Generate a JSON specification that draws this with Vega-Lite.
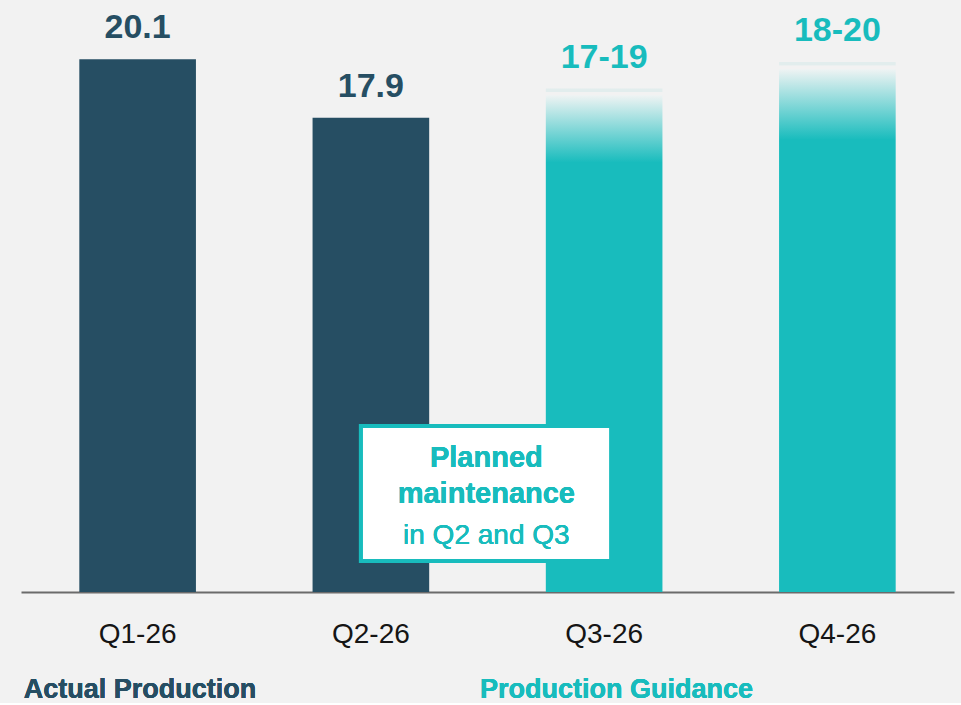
{
  "$schema": "https://vega.github.io/schema/vega-lite/v6.json",
  "width": 933,
  "height": 592,
  "padding": {"left": 21, "top": 0, "right": 7, "bottom": 0},
  "background": "#f2f2f2",
  "config": {"view": {"stroke": null}, "font": "Liberation Sans"},
  "data": {"values": [
    {"quarter": "Q1-26", "type": "Actual", "value": 20.1, "label": "20.1"},
    {"quarter": "Q2-26", "type": "Actual", "value": 17.9, "label": "17.9"},
    {"quarter": "Q3-26", "type": "Guidance", "low": 17, "value": 19, "label": "17-19"},
    {"quarter": "Q4-26", "type": "Guidance", "low": 18, "value": 20, "label": "18-20"}
  ]},
  "encoding": {
    "x": {
      "field": "quarter", "type": "nominal", "sort": null,
      "scale": {"paddingInner": 0.5, "paddingOuter": 0.25},
      "axis": {
        "title": null, "labelAngle": 0, "labelFontSize": 28, "labelColor": "#151515",
        "labelFont": "Liberation Sans", "labelBaseline": "alphabetic", "labelPadding": 50,
        "ticks": false, "tickSize": 0, "domainColor": "#6b6b6b", "domainWidth": 2, "grid": false
      }
    },
    "y": {"field": "value", "type": "quantitative", "scale": {"domain": [0, 22.34], "nice": false, "zero": true}, "axis": null}
  },
  "layer": [
    {
      "transform": [{"filter": "datum.type === 'Actual'"}],
      "mark": {"type": "bar", "fill": "#264e63"}
    },
    {
      "transform": [{"filter": "datum.type === 'Guidance'"}],
      "mark": {"type": "bar", "fill": {
        "gradient": "linear", "x1": 0, "y1": 0, "x2": 0, "y2": 1,
        "stops": [
          {"offset": 0, "color": "#e2eded"},
          {"offset": 0.006, "color": "#e2eded"},
          {"offset": 0.007, "color": "#f2f2f2"},
          {"offset": 0.013, "color": "#f2f2f2"},
          {"offset": 0.014, "color": "#eef3f3"},
          {"offset": 0.147, "color": "#18bcbd"},
          {"offset": 1, "color": "#18bcbd"}
        ]
      }}
    },
    {
      "mark": {"type": "text", "fontSize": 34, "fontWeight": "bold", "baseline": "alphabetic", "dy": -21},
      "encoding": {
        "text": {"field": "label"},
        "color": {"field": "type", "type": "nominal", "scale": {"domain": ["Actual", "Guidance"], "range": ["#264e63", "#18bcbd"]}, "legend": null}
      }
    },
    {
      "mark": {"type": "rect", "fill": "#ffffff", "stroke": "#18bcbd", "strokeWidth": 4},
      "encoding": {
        "x": {"datum": "Q2-26", "bandPosition": 0.415},
        "x2": {"datum": "Q3-26", "bandPosition": 0.56},
        "y": {"datum": 6.26},
        "y2": {"datum": 1.17}
      }
    },
    {
      "mark": {"type": "text", "text": ["Planned", "maintenance"], "fontSize": 29, "fontWeight": "bold", "color": "#18bcbd", "baseline": "alphabetic", "align": "center", "lineHeight": 36},
      "encoding": {
        "x": {"datum": "Q2-26", "bandPosition": 1.49},
        "y": {"datum": 4.72}
      }
    },
    {
      "mark": {"type": "text", "text": "in Q2 and Q3", "fontSize": 28, "color": "#18bcbd", "baseline": "alphabetic", "align": "center"},
      "encoding": {
        "x": {"datum": "Q2-26", "bandPosition": 1.49},
        "y": {"datum": 1.81}
      }
    },
    {
      "mark": {"type": "text", "text": "Actual Production", "fontSize": 27, "fontWeight": "bold", "color": "#264e63", "baseline": "alphabetic", "align": "center"},
      "encoding": {
        "x": {"datum": "Q1-26", "bandPosition": 0.52},
        "y": {"datum": -4.0}
      }
    },
    {
      "mark": {"type": "text", "text": "Production Guidance", "fontSize": 27, "fontWeight": "bold", "color": "#18bcbd", "baseline": "alphabetic", "align": "center"},
      "encoding": {
        "x": {"datum": "Q3-26", "bandPosition": 0.606},
        "y": {"datum": -4.0}
      }
    }
  ]
}
